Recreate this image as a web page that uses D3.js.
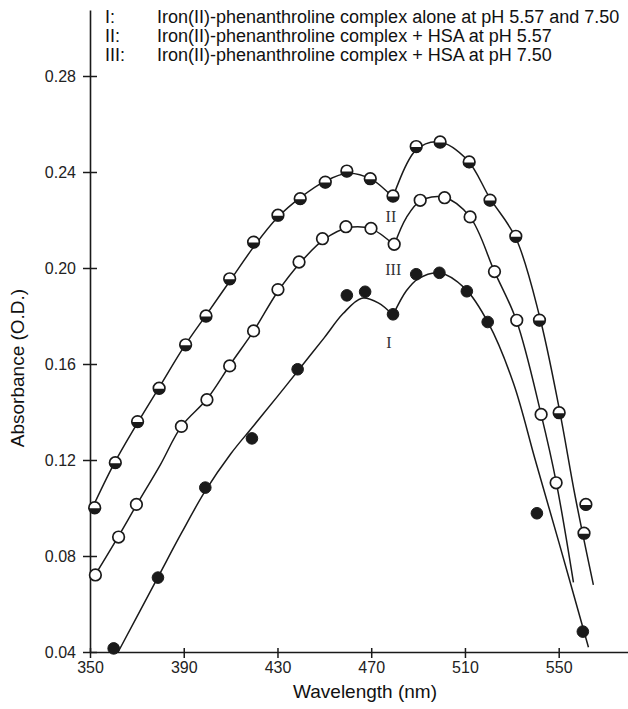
<!DOCTYPE html>
<html>
<head>
<meta charset="utf-8">
<script src="https://cdn.jsdelivr.net/npm/d3@7"></script>
<style>
  body { margin: 0; background: #fff; }
  svg { display: block; font-family: "Liberation Sans", Arial, Helvetica, sans-serif; }
</style>
</head>
<body>
<div id="chart"></div>
<script>
// Absorbance spectra of the iron(II)-phenanthroline complex

// measured points [wavelength nm, absorbance]
const ptsI = [[360.1,0.0415],[379,0.071],[399.2,0.1085],[419.1,0.129],[438.6,0.1578],
  [459.6,0.1886],[467.4,0.1901],[479.3,0.1807],[489.2,0.1974],[499.1,0.198],
  [510.8,0.1903],[519.7,0.1775],[540.7,0.0978],[560.3,0.0485]];
const ptsII = [[352,0.1001],[360.8,0.1189],[370.3,0.136],[379.5,0.1499],[390.8,0.168],
  [399.5,0.18],[409.6,0.1955],[419.8,0.2108],[430.2,0.222],[439.7,0.2289],[450.4,0.2358],
  [459.6,0.2404],[469.6,0.2372],[479.3,0.23],[489.2,0.2506],[499.4,0.2525],[511.8,0.2442],
  [520.7,0.2283],[531.7,0.2132],[541.8,0.1783],[550.2,0.1397],[561.6,0.1015],[560.8,0.0895]];
const ptsIII = [[352.3,0.0721],[362.2,0.0879],[369.8,0.1015],[389,0.134],[399.9,0.1451],
  [409.6,0.1592],[419.8,0.1738],[430.2,0.191],[439.2,0.2025],[449.2,0.2122],[459.2,0.2172],
  [469.9,0.2165],[479.8,0.2099],[490.9,0.2282],[501.3,0.2293],[512.2,0.2213],[522.6,0.1985],
  [532.1,0.1782],[542.5,0.139],[548.9,0.1105]];

// drawn curves (split at the dip near 480 nm)
const fitI = [
  [[362,0.040],[379,0.0712],[389,0.0895],[399,0.1068],[410,0.1225],[420,0.1345],
   [430,0.1465],[439,0.1575],[450,0.171],[458,0.181],[466,0.1874],[473,0.1855],[479.3,0.1804]],
  [[479.3,0.1804],[485,0.1905],[490,0.1955],[499,0.198],[510,0.1915],[520,0.177],
   [530.7,0.152],[540,0.120],[550,0.086],[562.7,0.042]]];
const fitII = [
  [[350.5,0.099],[360,0.118],[370,0.135],[380,0.151],[390,0.167],[400,0.181],[410,0.195],
   [420,0.209],[430,0.221],[440,0.2295],[450,0.236],[460,0.2395],[470,0.237],[479.3,0.2295]],
  [[479.3,0.2295],[489,0.249],[499,0.2525],[511,0.245],[520.7,0.229],[531.7,0.2125],
   [541.8,0.180],[550.3,0.141],[557,0.105],[564.8,0.068]]];
const fitIII = [
  [[351.5,0.071],[362,0.088],[370,0.1015],[380,0.118],[389,0.134],[400,0.1455],[410,0.160],
   [420,0.174],[430,0.190],[440,0.2025],[450,0.212],[460,0.2168],[470,0.2163],[479.8,0.2095]],
  [[479.8,0.2095],[485,0.221],[491,0.228],[501,0.2295],[512,0.2215],[522.6,0.1985],
   [532,0.178],[542.5,0.139],[549,0.1105],[556.3,0.069]]];

const xTicks = [350, 390, 430, 470, 510, 550];
const yTicks = [0.04, 0.08, 0.12, 0.16, 0.20, 0.24, 0.28];

const legendKeys = ["I:", "II:", "III:"];
const legendTexts = [
  "Iron(II)-phenanthroline complex alone at pH 5.57 and 7.50",
  "Iron(II)-phenanthroline complex + HSA at pH 5.57",
  "Iron(II)-phenanthroline complex + HSA at pH 7.50"];

const curveNames = ["II", "III", "I"];
const curveNameAt = [[478.4,0.2217],[479.4,0.1996],[477.6,0.1692]];

const W = 628, H = 709;
const ink = "#1a1a1a";

const svg = d3.select("#chart").append("svg")
  .attr("width", W).attr("height", H);

const x = d3.scaleLinear().domain([350, 580]).range([90, 629]);
const y = d3.scaleLinear().domain([0.04, 0.3075]).range([652, 10]);

// x axis
const xAxis = svg.append("g")
  .attr("transform", "translate(0," + y(0.04) + ")")
  .call(d3.axisBottom(x).tickValues(xTicks).tickSize(6).tickPadding(4)
    .tickFormat(d3.format("d")).tickSizeOuter(0));
xAxis.select(".domain").attr("stroke", ink).attr("stroke-width", 1.6);
xAxis.selectAll(".tick line").attr("y1", -4).attr("y2", 6)
  .attr("stroke", ink).attr("stroke-width", 1.5);
xAxis.selectAll(".tick text").attr("font-size", 16).attr("fill", "#222");

// y axis
const yAxis = svg.append("g")
  .attr("transform", "translate(" + x(350) + ",0)")
  .call(d3.axisLeft(y).tickValues(yTicks).tickSize(7).tickPadding(7)
    .tickFormat(d3.format(".2f")).tickSizeOuter(0));
yAxis.select(".domain").attr("stroke", ink).attr("stroke-width", 1.6);
yAxis.selectAll(".tick line").attr("x1", -7).attr("x2", 7)
  .attr("stroke", ink).attr("stroke-width", 1.5);
yAxis.selectAll(".tick text").attr("font-size", 16).attr("fill", "#222");

// axis titles
svg.append("text")
  .attr("x", 365).attr("y", 698)
  .attr("text-anchor", "middle").attr("font-size", 19).attr("fill", "#111")
  .text("Wavelength (nm)");
svg.append("text")
  .attr("transform", "translate(24," + (y(0.16) + 4) + ") rotate(-90)")
  .attr("text-anchor", "middle").attr("font-size", 19).attr("fill", "#111")
  .text("Absorbance (O.D.)");

// fitted curves
const line = d3.line()
  .x(d => x(d[0])).y(d => y(d[1]))
  .curve(d3.curveCatmullRom.alpha(0.5));

[fitI, fitII, fitIII].forEach(function(segs) {
  segs.forEach(function(seg) {
    svg.append("path").datum(seg)
      .attr("d", line)
      .attr("fill", "none").attr("stroke", ink).attr("stroke-width", 1.5);
  });
});

const r = 5.8;

// I: filled circles
svg.append("g").selectAll("circle").data(ptsI).enter().append("circle")
  .attr("cx", d => x(d[0])).attr("cy", d => y(d[1])).attr("r", r)
  .attr("fill", ink).attr("stroke", ink).attr("stroke-width", 1);

// III: open circles
svg.append("g").selectAll("circle").data(ptsIII).enter().append("circle")
  .attr("cx", d => x(d[0])).attr("cy", d => y(d[1])).attr("r", r)
  .attr("fill", "#fff").attr("stroke", ink).attr("stroke-width", 1.7);

// II: half filled (dark lower half)
const half = svg.append("g").selectAll("g").data(ptsII).enter().append("g")
  .attr("transform", d => "translate(" + x(d[0]) + "," + y(d[1]) + ")");
half.append("circle").attr("r", r)
  .attr("fill", "#fff").attr("stroke", ink).attr("stroke-width", 1.7);
half.append("path")
  .attr("d", "M" + (-r) + ",0.5A" + r + "," + r + " 0 0,0 " + r + ",0.5Z")
  .attr("fill", ink);

// curve names
svg.append("g").selectAll("text").data(curveNames).enter().append("text")
  .attr("x", (d, i) => x(curveNameAt[i][0]))
  .attr("y", (d, i) => y(curveNameAt[i][1]))
  .attr("dy", "0.35em")
  .attr("text-anchor", "middle")
  .attr("font-family", "'Liberation Serif', 'Times New Roman', serif")
  .attr("font-size", 16).attr("fill", "#333")
  .text(d => d);

// legend
const leg = svg.append("g").attr("font-size", 18).attr("fill", "#111");
leg.selectAll(".k").data(legendKeys).enter().append("text")
  .attr("class", "k")
  .attr("x", 105).attr("y", (d, i) => 23 + i * 19)
  .text(d => d);
leg.selectAll(".t").data(legendTexts).enter().append("text")
  .attr("class", "t")
  .attr("x", 157).attr("y", (d, i) => 23 + i * 19)
  .text(d => d);
</script>
</body>
</html>
